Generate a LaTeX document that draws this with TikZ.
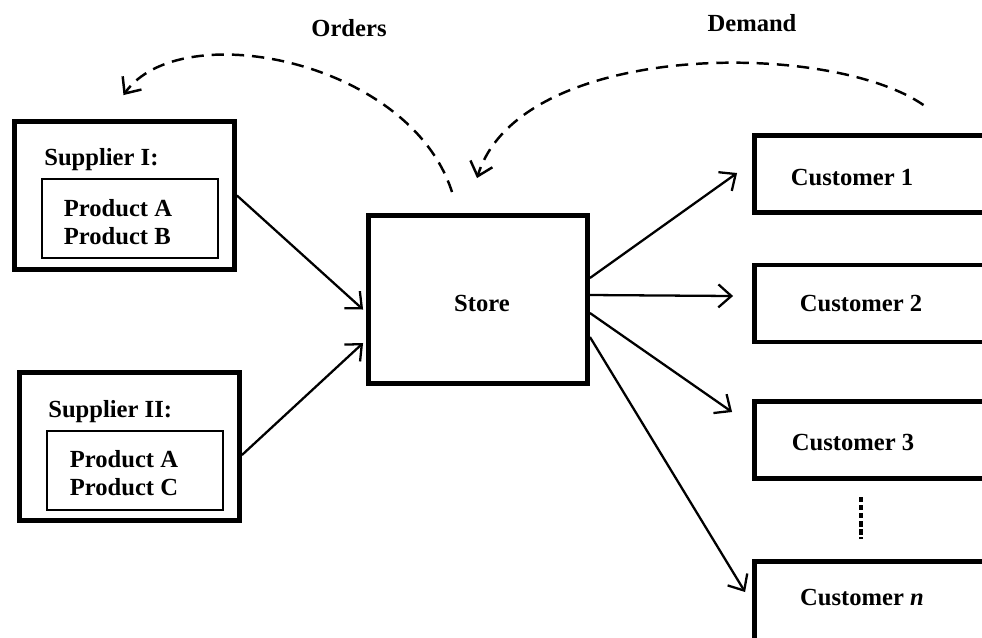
\documentclass[tikz,border=0pt]{standalone}
\usepackage{fontspec}
\setmainfont{Liberation Serif}
\usepackage{tikz}
\usetikzlibrary{arrows.meta,positioning}
\tikzstyle{bigbox} = [draw, rectangle, line width=2.8pt, minimum width=4.4cm, minimum height=2.96cm]
\tikzstyle{prodbox} = [draw, rectangle, line width=0.6pt, minimum width=3.52cm, minimum height=1.58cm]
\tikzstyle{custbox} = [draw, rectangle, line width=2.8pt, minimum width=6cm, minimum height=1.54cm]
\tikzstyle{txt} = [inner sep=0pt]
\tikzstyle{flow} = [line width=1.3pt]
\tikzstyle{info} = [line width=1.4pt, dash pattern=on 7pt off 4.5pt]

\begin{document}
\begin{tikzpicture}[x=0.02cm, y=-0.02cm, >={Straight Barb[length=2.6mm,width=4.6mm]},
    font=\bfseries\fontsize{14}{16}\selectfont]
  \clip (0,0) rectangle (982,637);

  % suppliers
  \node [bigbox] (sup1) at (124.5,195.5) {};
  \node [prodbox] (prod1) at (130,218.5) {};
  \node [txt, anchor=west] (sup1lbl) at (44,160) {Supplier I:};
  \node [txt, align=left] (prod1lbl) at (118,222) {Product A\\Product B};

  \node [bigbox] (sup2) at (129.5,446.5) {};
  \node [prodbox] (prod2) at (135,470.5) {};
  \node [txt, anchor=west] (sup2lbl) at (48,412) {Supplier II:};
  \node [txt, align=left] (prod2lbl) at (124,473) {Product A\\Product C};

  % store
  \node [bigbox, minimum width=4.38cm, minimum height=3.36cm] (store) at (478,299.5) {};
  \node [txt] (storelbl) at (482,303) {Store};

  % customers
  \node [custbox] (c1) at (904.5,174) {};
  \node [custbox] (c2) at (904.5,303.5) {};
  \node [custbox] (c3) at (904.5,440) {};
  \node [custbox, minimum height=2.4cm] (cn) at (904.5,621.5) {};
  \node [txt] (c1lbl) at (852,177) {Customer 1};
  \node [txt] (c2lbl) at (861,303) {Customer 2};
  \node [txt] (c3lbl) at (853,442) {Customer 3};
  \node [txt] (cnlbl) at (862,597) {Customer \textit{n}};
  \draw [line width=2.2pt, dash pattern=on 3pt off 1.6pt] (861,497) -- (861,539);

  % top labels
  \node [txt] (orders) at (349,28) {Orders};
  \node [txt] (demand) at (752,23) {Demand};

  % material flow
  \draw [flow, ->] (sup1.east) -- ([shift={(-3,10)}]store.west);
  \draw [flow, ->] ([shift={(0,8.5)}]sup2.east) -- ([shift={(-3,43.5)}]store.west);
  \draw [flow, ->] ([shift={(0,-21.5)}]store.east) -- ([shift={(-15,-1)}]c1.west);
  \draw [flow, ->] ([shift={(0,-4.5)}]store.east) -- ([shift={(-19,-7.5)}]c2.west);
  \draw [flow, ->] ([shift={(0,13.5)}]store.east) -- ([shift={(-20,-28)}]c3.west);
  \draw [flow, ->] ([shift={(0,37.5)}]store.east) -- ([shift={(-7,-29.5)}]cn.west);

  % information flow
  \draw [info, ->] ([shift={(-26,-21)}]store.north) .. controls (410,60) and (180,15) .. ([shift={(-1,-24)}]sup1.north);
  \draw [info, ->] ([shift={(19,-28)}]c1.north) .. controls (830,40) and (520,40) .. ([shift={(-1,-35)}]store.north);
\end{tikzpicture}
\end{document}
